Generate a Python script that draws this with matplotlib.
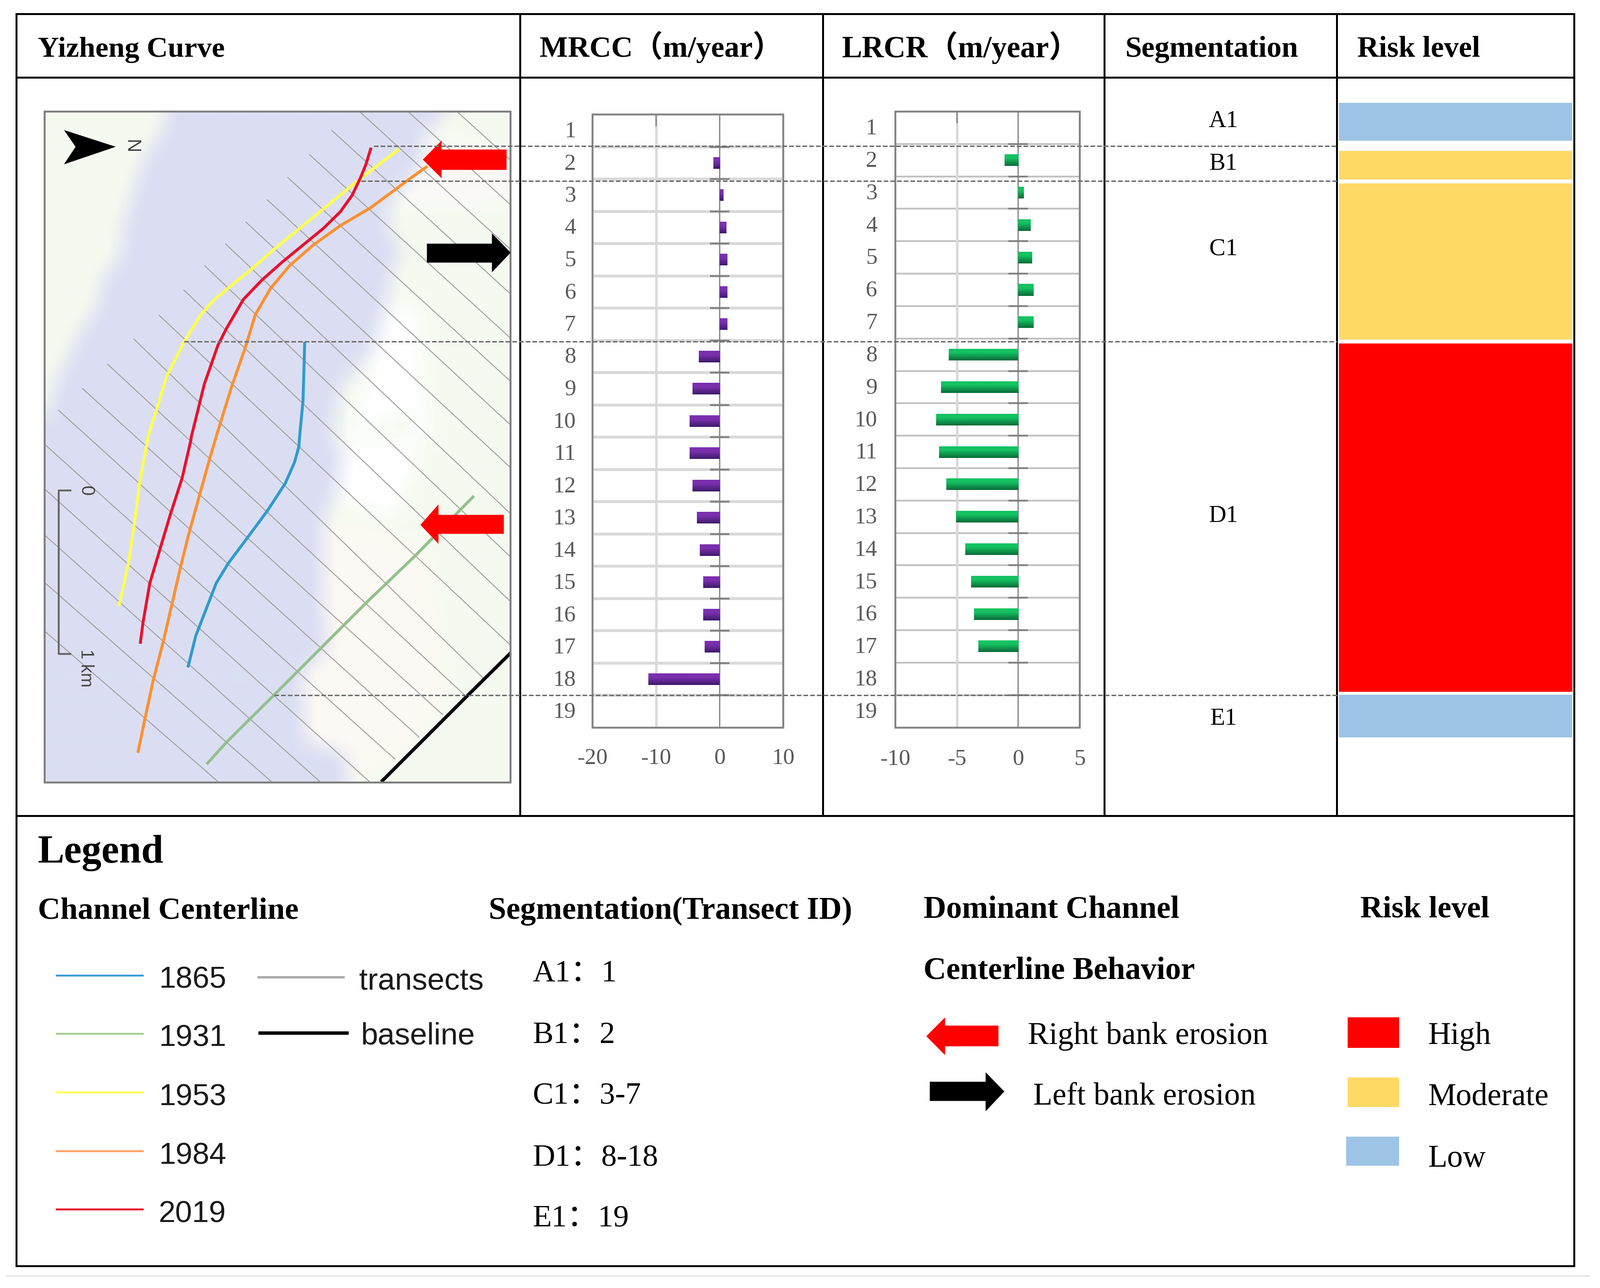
import numpy as np
import matplotlib
matplotlib.use('Agg')
import matplotlib.pyplot as plt
from matplotlib.patches import Polygon, Rectangle
from matplotlib.path import Path
from matplotlib.transforms import ScaledTranslation

SERIF = ['Liberation Serif', 'Noto Sans CJK SC', 'DejaVu Sans']
SANS = ['Liberation Sans', 'DejaVu Sans']

# ---------- data ----------
rows = list(range(1, 20))
mrcc = [np.nan, -1.0, 0.55, 1.0, 1.2, 1.2, 1.2, -3.3, -4.3, -4.7, -4.7, -4.3, -3.6, -3.1, -2.6, -2.6, -2.4, -11.2, np.nan]
lrcr = [np.nan, -1.12, 0.44, 1.0, 1.12, 1.25, 1.25, -5.64, -6.3, -6.7, -6.45, -5.85, -5.05, -4.3, -3.85, -3.6, -3.25, np.nan, np.nan]
mrcc_ticks = [-20, -10, 0, 10]
lrcr_ticks = [-10, -5, 0, 5]
headers = ['Yizheng Curve', 'MRCC（m/year）', 'LRCR（m/year）', 'Segmentation', 'Risk level']
seg_names = ['A1', 'B1', 'C1', 'D1', 'E1']
seg_ids = ['1', '2', '3-7', '8-18', '19']
years = ['1865', '1931', '1953', '1984', '2019']
year_colors = ['#3F9FD8', '#A6CF93', '#FFFF5A', '#FFA566', '#E8132B']
risk_colors = {'Low': '#9DC3E6', 'Moderate': '#FFD966', 'High': '#FF0000'}
seg_risk = ['Low', 'Moderate', 'Moderate', 'High', 'Low']

# map geometry given in zoom-view coordinates
def z1(p): return [(x / 1.4255, y / 1.742) for x, y in p]
def z2(p): return [(x / 1.4255, 850 + y / 1.845) for x, y in p]

red_line = z1([(1090,530),(1075,590),(1060,635),(1035,700),(1000,760),(950,820),(890,880),(830,940),(770,1005),(715,1075),(665,1180),(640,1240),(600,1380),(580,1480),(562,1568)]) + \
           z2([(560,110),(535,250),(500,390),(470,520),(440,650),(420,800),(412,880)])
orange_line = z1([(1255,597),(1200,645),(1090,745),(1000,810),(920,880),(850,955),(795,1035),(750,1130),(720,1250),(680,1390),(635,1568)]) + \
              z2([(615,180),(585,320),(555,460),(530,590),(505,730),(480,870),(450,1020),(425,1170),(405,1295)])
yellow_line = z1([(1172,535),(1060,640),(950,750),(810,890),(740,965),(630,1075),(590,1130),(540,1230),(490,1350),(460,1470),(435,1568)]) + \
              z2([(430,130),(410,270),(395,420),(378,570),(350,735)])
blue_line = z1([(895,1228),(893,1320),(890,1440),(880,1568)]) + \
            z2([(878,130),(865,190),(838,270),(785,375),(725,480),(670,575),(635,650),(605,750),(575,850),(552,970)])
green_line = z2([(1392,318),(1220,545),(1075,725),(940,900),(805,1075),(665,1255),(607,1338)])
base_line = z2([(1120,1405),(1375,1075),(1500,915)])

transects = [((943,231),(1052,330)),((842,231),(1052,422)),((742,231),(1052,514)),((684,269),(1052,606)),
             ((638,319),(1052,697)),((593,366),(1052,786)),((551,412),(1052,876)),((507,458),(1052,964)),
             ((465,503),(1052,1059)),((422,548),(1052,1148)),((379,598),(1052,1240)),((328,650),(1052,1330)),
             ((276,699),(996,1398)),((222,751),(961,1436)),((170,801),(912,1473)),((121,846),(863,1519)),
             ((91,915),(814,1565)),((91,1007),(761,1611)),((91,1102),(659,1611)),((91,1200),(559,1611)),((91,1300),(449,1611))]

land_left = z1([(130,400),(490,400),(470,480),(420,560),(360,800),(350,920),(295,1000),(290,1080),(230,1200),(170,1350),(130,1500)])
water_right_edge = z1([(1320,400),(1250,480),(1240,600),(1150,720),(1140,800),(1180,900),(1150,1000),(1130,1120),(1100,1250),(1000,1400),(980,1568)]) + \
                   z2([(1010,160),(990,300),(950,420),(950,700),(965,900),(890,1000),(900,1250),(1020,1300),(1020,1410)])
land_right = water_right_edge + [(1060, 1620), (1060, 225)]
sand = z2([(950,420),(1100,440),(1250,520),(1290,800),(1300,1100),(1180,1300),(1020,1410),(1020,1300),(900,1250),(890,1000),(965,900),(950,700)])
white_a = z1([(1130,1120),(1230,1100),(1260,1568),(1000,1568)]) + z2([(1210,0),(1230,200),(1150,400),(990,330),(1010,160)])
white_b = z1([(1250,480),(1500,560),(1500,720),(1320,740),(1150,720),(1240,600)])

W, H = 3297, 2655
fig = plt.figure(figsize=(W / 100, H / 100), dpi=100, facecolor='white')
ax = fig.add_axes([0, 0, 1, 1])
ax.set_xlim(0, W); ax.set_ylim(H, 0); ax.axis('off')
PX = 0.72

def T(x, y, s, size, ha='left', weight='normal', fam=SERIF, color='black', **k):
    kk = 0.33 if fam is SERIF else 0.36
    return ax.text(x, y + kk * size / PX, s, fontsize=size, ha=ha, va='baseline', fontweight=weight, family=fam, color=color, **k)

def R(x, y, s, size):
    return ax.text(x, y, s, fontsize=size, ha='center', va='center', family=SANS, color='#444444', rotation=-90, zorder=5)

# ---------- map ----------
mx0, mx1, my0, my1 = 92, 1052, 230, 1613
step = 4
gx, gy = np.meshgrid(np.arange(mx0, mx1, step) + step / 2, np.arange(my0, my1, step) + step / 2)
pts = np.c_[gx.ravel(), gy.ravel()]
img = np.ones(gx.shape + (3,)) * np.array([220, 223, 243]) / 255

def paint(poly, col):
    m = Path(poly).contains_points(pts).reshape(gx.shape)
    img[m] = np.array(matplotlib.colors.to_rgb(col))

paint(land_left, '#F5FBF0')
paint(land_right, '#F5FBF0')
paint(sand, '#FDF9F4')
paint(white_a, '#FFFFFF')
paint(white_b, '#FBF9F8')

def blur(a, r=6):
    k = np.ones(2 * r + 1) / (2 * r + 1)
    a = np.pad(a, ((r, r), (r, r), (0, 0)), mode='edge')
    for c in range(3):
        a[..., c] = np.apply_along_axis(lambda v: np.convolve(v, k, 'same'), 0, a[..., c])
        a[..., c] = np.apply_along_axis(lambda v: np.convolve(v, k, 'same'), 1, a[..., c])
    return a[r:-r, r:-r]

ax.imshow(blur(img), extent=[mx0, mx1, my1, my0], aspect='auto', interpolation='bilinear', zorder=1)
ax.set_xlim(0, W); ax.set_ylim(H, 0)

for a, b in transects:
    ax.plot([a[0], b[0]], [a[1], b[1]], color='#A0A0A0', lw=2 * PX, zorder=2)

def L(p, c, lw):
    p = np.array(p)
    ax.plot(p[:, 0], p[:, 1], color=c, lw=lw * PX, zorder=3, solid_capstyle='butt', solid_joinstyle='round')

L(blue_line, '#2E9BD0', 6)
L(green_line, '#93C08C', 6)
L(yellow_line, '#FFFF4D', 6)
L(orange_line, '#FF8F2E', 6)
L(red_line, '#E8112D', 6)
L(base_line, 'black', 7)
ax.add_patch(Rectangle((mx0, my0), mx1 - mx0, my1 - my0, fc='none', ec='#808080', lw=4 * PX, zorder=4))

def arrow_left(tip, bx, hy0, hy1, ex, sy0, sy1, c, zf=z1, z=5):
    poly = zf([tip, (bx, hy0), (bx, sy0), (ex, sy0), (ex, sy1), (bx, sy1), (bx, hy1)])
    ax.add_patch(Polygon(poly, fc=c, ec='none', zorder=z))

arrow_left((1242, 573), 1297, 505, 640, 1488, 537, 610, '#FF0000')
arrow_left((1235, 428), 1288, 350, 500, 1480, 390, 462, '#FF0000', z2)
arrow_left((1500, 907), 1445, 838, 978, 1254, 875, 943, 'black')
ax.add_patch(Polygon(z1([(188, 467), (340, 527), (188, 590), (222, 527)]), fc='black', ec='none', zorder=5))
R(385 / 1.4255, 527 / 1.742, 'N', 28)
sb = np.array(z2([(207, 297), (173, 297), (173, 918), (207, 918)]))
ax.plot(sb[:, 0], sb[:, 1], color='#6A6A6A', lw=4 * PX, zorder=5)
x0, y0 = z2([(252, 298)])[0]
R(x0, y0, '0', 27)
x0, y0 = z2([(252, 972)])[0]
R(x0, y0, '1 km', 26)

# ---------- table ----------
vx = [34, 1072, 1696, 2276, 2755, 3244]
ytop, yhead, ymid, ybot = 29, 160, 1682, 2610
for y in (ytop, yhead, ymid, ybot):
    ax.plot([vx[0], vx[-1]], [y, y], color='black', lw=4 * PX, zorder=6, solid_capstyle='projecting')
for x in (vx[0], vx[-1]):
    ax.plot([x, x], [ytop, ybot], color='black', lw=4 * PX, zorder=6)
for x in vx[1:-1]:
    ax.plot([x, x], [ytop, ymid], color='black', lw=4 * PX, zorder=6)
ax.plot([13, 3275], [2630, 2630], color='#E4E4E4', lw=3 * PX, zorder=1)

hx = [78, 1112, 1735, 2319, 2797]
hs = [43.5, 44.5, 45, 44, 44]
for x, s, z in zip(hx, headers, hs):
    T(x, 97, s, z, weight='bold')

# ---------- bar charts ----------
def chart(box, vals, xlim, ticks, top, bot, hgrid, hlw, vg, pad, xpad, tickcol):
    l, r, t, b = box
    a = fig.add_axes([l / W, 1 - b / H, (r - l) / W, (b - t) / H], zorder=3)
    a.set_facecolor('white')
    a.set_xlim(*xlim); a.set_ylim(19.5, 0.5)
    for y in np.arange(1.5, 19.5):
        a.axhline(y, color=hgrid, lw=hlw * PX, zorder=1)
    a.axvline(vg, color='#D9D9D9', lw=5 * PX, zorder=1)
    a.axvline(0, color='#7F7F7F', lw=2.5 * PX, zorder=2)
    a.plot([0] * 18, np.arange(1.5, 19.5), ls='none', marker='_', ms=40 * PX, mew=3.5 * PX, color='#7F7F7F', zorder=2)
    a.plot([vg, vg], [0.5, 0.85], color='#7F7F7F', lw=2.5 * PX, zorder=2)
    h = 0.36
    g = np.linspace(0, 1, 32)[:, None, None]
    c0 = np.array(matplotlib.colors.to_rgb(top)); c1 = np.array(matplotlib.colors.to_rgb(bot))
    g = np.where(g < 0.35, 0, (g - 0.35) / 0.65)
    grad = c0 * (1 - g) + c1 * g
    for y, v in zip(rows, vals):
        if np.isnan(v):
            continue
        bar = a.barh(y, v, height=h, color=top, zorder=3)[0]
        im = a.imshow(grad, extent=[min(v, 0), max(v, 0), y + h / 2, y - h / 2], aspect='auto', zorder=4, interpolation='bilinear')
        im.set_clip_path(bar)
    a.set_xlim(*xlim); a.set_ylim(19.5, 0.5)
    a.set_yticks(rows); a.set_yticklabels([str(i) for i in rows])
    a.set_xticks(ticks); a.set_xticklabels([str(i) for i in ticks])
    a.tick_params(axis='y', length=0, pad=pad * PX, labelsize=34, labelcolor=tickcol)
    a.tick_params(axis='x', length=0, pad=xpad * PX, labelsize=34, labelcolor=tickcol)
    for lab in a.get_xticklabels() + a.get_yticklabels():
        lab.set_family(SERIF)
    shift = ScaledTranslation(0, 2.5 / 100, fig.dpi_scale_trans)
    for lab in a.get_yticklabels():
        lab.set_transform(lab.get_transform() + shift)
    for s in a.spines.values():
        s.set_color('#868686'); s.set_linewidth(4 * PX)
    return a

chart((1221, 1614, 236, 1499.5), mrcc, (-20, 10), mrcc_ticks, '#7A30AE', '#3E1A6B', '#D9D9D9', 6, -10, 34, 43, '#595959')
chart((1845, 2225, 230, 1499.5), lrcr, (-10, 4.85), lrcr_ticks, '#14C262', '#0A6B38', '#BFBFBF', 3.5, -5, 37, 45, '#595959')

# ---------- overlay dashes ----------
ov = fig.add_axes([0, 0, 1, 1], zorder=5)
ov.set_xlim(0, W); ov.set_ylim(H, 0); ov.axis('off'); ov.patch.set_alpha(0)
for x0, y in [(770, 300.5), (744, 373), (379, 703.5), (565, 1433)]:
    ov.plot([x0, 2755], [y, y], color='#707070', lw=3 * PX, ls=(0, (3.2, 1.4)), zorder=5)

# ---------- segmentation / risk columns ----------
seg_y = [246, 333, 509, 1060, 1477]
for n, y in zip(seg_names, seg_y):
    T(2521, y, n, 36, ha='center')
risk_box = [(212, 290), (311, 370), (378, 700), (708, 1426), (1432, 1520)]
for (y0, y1), k in zip(risk_box, seg_risk):
    ax.add_patch(Rectangle((2759, y0), 481, y1 - y0, fc=risk_colors[k], ec='none', zorder=2))

# ---------- legend ----------
T(78, 1751, 'Legend', 59, weight='bold')
T(78, 1872, 'Channel Centerline', 46.3, weight='bold')
T(1007, 1873, 'Segmentation(Transect ID)', 46.6, weight='bold')
T(1903, 1870, 'Dominant Channel', 46.6, weight='bold')
T(1903, 1997, 'Centerline Behavior', 46.6, weight='bold')
T(2803, 1870, 'Risk level', 46.3, weight='bold')

line_y = [2011, 2131, 2252, 2373, 2493]
text_y = [2014, 2134, 2256, 2377, 2497]
for ly, ty, s, c in zip(line_y, text_y, years, year_colors):
    ax.plot([115, 296], [ly, ly], color=c, lw=4 * PX, zorder=3, solid_capstyle='butt')
    T(327, ty, s, 45, fam=SANS, color='#1A1A1A')
ax.plot([530, 710], [2014, 2014], color='#ADADAD', lw=5 * PX, zorder=3, solid_capstyle='butt')
T(740, 2017, 'transects', 45.5, fam=SANS, color='#1A1A1A')
ax.plot([532, 718], [2129, 2129], color='black', lw=7 * PX, zorder=3, solid_capstyle='butt')
T(744, 2130, 'baseline', 45.5, fam=SANS, color='#1A1A1A')

for n, i, y in zip(seg_names, seg_ids, [2002, 2129, 2253, 2381, 2506]):
    T(1097, y, f'{n}：{i}', 46)

def z6(p): return [(1700 + x / 0.982, 1700 + y / 1.642) for x, y in p]
arrow_left((205, 716), 243, 652, 780, 351, 680, 750, '#FF0000', z6)
arrow_left((363, 903), 325, 838, 970, 212, 870, 935, 'black', z6)
T(2118, 2131, 'Right bank erosion', 46.8)
T(2129, 2256, 'Left bank erosion', 46.8)
for k, (x0, x1, y0, y1), ty in zip(['High', 'Moderate', 'Low'],
                                   [(1058, 1162, 652, 755), (1058, 1162, 856, 956), (1055, 1162, 1056, 1155)],
                                   [2131, 2256, 2384]):
    q = z6([(x0, y0), (x1, y1)])
    ax.add_patch(Rectangle(q[0], q[1][0] - q[0][0], q[1][1] - q[0][1], fc=risk_colors[k], ec='none', zorder=2))
    T(2942, ty, k, 46.8)

fig.savefig('out.png', dpi=100, facecolor='white')
